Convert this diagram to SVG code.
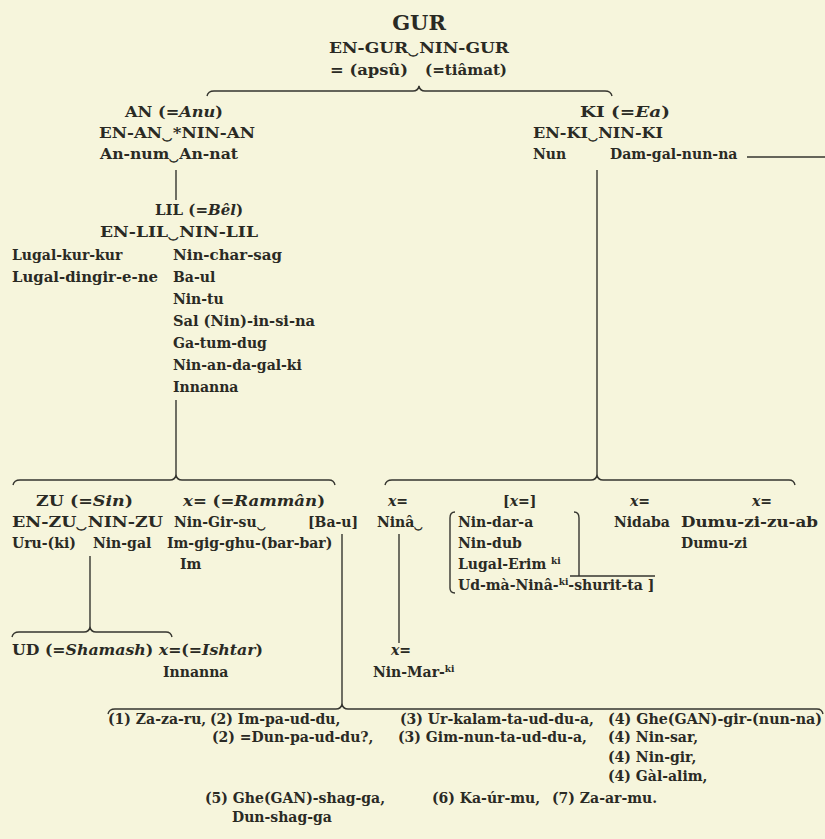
<svg xmlns="http://www.w3.org/2000/svg" width="825" height="839" viewBox="0 0 825 839">
<style>
.t{font-family:"DejaVu Serif","Liberation Serif",serif;font-weight:bold;font-size:14px;fill:#2a2a24}
.m{text-anchor:middle}
.i{font-style:italic}
.s{font-size:9px}
.ln{fill:none;stroke:#35352f;stroke-width:1.4}
</style>
<rect width="825" height="839" fill="#f6f5dc"/>
<g id="connectors" class="ln">
<path d="M207 96 Q208 91 214 91 L413 91 Q418 91 419 86 Q420 91 425 91 L605 91 Q611 91 612 96"/>
<path d="M176 170 V200"/>
<path d="M597 170 V475"/>
<path d="M747 157 H825"/>
<path d="M176 400 V475"/>
<path d="M13 485 Q14 480 20 480 L170 480 Q175 480 176 475 Q177 480 182 480 L329 480 Q334 480 335 485"/>
<path d="M385 485 Q386 480 392 480 L591 480 Q596 480 597 475 Q598 480 603 480 L789 480 Q794 480 795 485"/>
<path d="M90 556 V627"/>
<path d="M12 637 Q13 632 19 632 L84 632 Q89 632 90 627 Q91 632 96 632 L166 632 Q171 632 172 637"/>
<path d="M342 534 V704"/>
<path d="M399 534 V643"/>
<path d="M108 714 Q109 709 115 709 L336 709 Q341 709 342 704 Q343 709 348 709 L817 709 Q822 709 823 714"/>
<path d="M455 512 Q450 512 450 518 L450 588 Q450 593 455 593"/>
<path d="M574 512 Q579 512 579 518 L579 576"/>
<path d="M570 576 H655"/>
</g>
<g id="gur">
<text class="t m" x="419" y="30" style="font-size:21px">GUR</text>
<text class="t" x="329" y="53" textLength="180" lengthAdjust="spacingAndGlyphs">EN-GUR‿NIN-GUR</text>
<text class="t" x="330" y="75" textLength="78" lengthAdjust="spacingAndGlyphs">= (apsû)</text>
<text class="t" x="425" y="75" textLength="82" lengthAdjust="spacingAndGlyphs">(=tiâmat)</text>
</g>
<g id="an">
<text class="t" x="125" y="117" textLength="98" lengthAdjust="spacingAndGlyphs">AN (=<tspan class="i">Anu</tspan>)</text>
<text class="t" x="99" y="138" textLength="156" lengthAdjust="spacingAndGlyphs">EN-AN‿*NIN-AN</text>
<text class="t" x="100" y="159" textLength="138" lengthAdjust="spacingAndGlyphs">An-num‿An-nat</text>
</g>
<g id="ki">
<text class="t" x="580" y="117" textLength="90" lengthAdjust="spacingAndGlyphs">KI (=<tspan class="i">Ea</tspan>)</text>
<text class="t" x="533" y="138" textLength="130" lengthAdjust="spacingAndGlyphs">EN-KI‿NIN-KI</text>
<text class="t" x="533" y="159">Nun</text>
<text class="t" x="610" y="159">Dam-gal-nun-na</text>
</g>
<g id="lil">
<text class="t" x="155" y="215" textLength="88" lengthAdjust="spacingAndGlyphs">LIL (=<tspan class="i">Bêl</tspan>)</text>
<text class="t" x="100" y="237" textLength="158" lengthAdjust="spacingAndGlyphs">EN-LIL‿NIN-LIL</text>
<text class="t" x="12" y="260">Lugal-kur-kur</text>
<text class="t" x="12" y="282" textLength="146" lengthAdjust="spacingAndGlyphs">Lugal-dingir-e-ne</text>
<text class="t" x="173" y="260" textLength="109" lengthAdjust="spacingAndGlyphs">Nin-char-sag</text>
<text class="t" x="173" y="282">Ba-ul</text>
<text class="t" x="173" y="304">Nin-tu</text>
<text class="t" x="173" y="326" textLength="142" lengthAdjust="spacingAndGlyphs">Sal (Nin)-in-si-na</text>
<text class="t" x="173" y="348">Ga-tum-dug</text>
<text class="t" x="173" y="370">Nin-an-da-gal-ki</text>
<text class="t" x="173" y="392">Innanna</text>
</g>
<g id="zu">
<text class="t" x="36" y="506" textLength="97" lengthAdjust="spacingAndGlyphs">ZU (=<tspan class="i">Sin</tspan>)</text>
<text class="t" x="12" y="527" textLength="151" lengthAdjust="spacingAndGlyphs">EN-ZU‿NIN-ZU</text>
<text class="t" x="12" y="548">Uru-(ki)</text>
<text class="t" x="93" y="548">Nin-gal</text>
</g>
<g id="ramman">
<text class="t" x="183" y="506" textLength="142" lengthAdjust="spacingAndGlyphs"><tspan class="i">x</tspan>= (=<tspan class="i">Rammân</tspan>)</text>
<text class="t" x="174" y="527">Nin-Gir-su‿</text>
<text class="t" x="308" y="527">[Ba-u]</text>
<text class="t" x="167" y="548">Im-gig-ghu-(bar-bar)</text>
<text class="t" x="180" y="569">Im</text>
</g>
<g id="ud">
<text class="t" x="12" y="655" textLength="251" lengthAdjust="spacingAndGlyphs">UD (=<tspan class="i">Shamash</tspan>) <tspan class="i">x</tspan>=(=<tspan class="i">Ishtar</tspan>)</text>
<text class="t" x="163" y="677">Innanna</text>
</g>
<g id="nina">
<text class="t" x="388" y="506"><tspan class="i">x</tspan>=</text>
<text class="t" x="377" y="527">Ninâ‿</text>
</g>
<g id="nindara">
<text class="t" x="503" y="506">[<tspan class="i">x</tspan>=]</text>
<text class="t" x="458" y="527">Nin-dar-a</text>
<text class="t" x="458" y="548">Nin-dub</text>
<text class="t" x="458" y="569">Lugal-Erim <tspan class="s" dy="-5">ki</tspan></text>
<text class="t" x="458" y="590">Ud-mà-Ninâ-<tspan class="s" dy="-5">ki</tspan><tspan dy="5">-shurit-ta ]</tspan></text>
</g>
<g id="nidaba">
<text class="t" x="630" y="506"><tspan class="i">x</tspan>=</text>
<text class="t" x="614" y="527">Nidaba</text>
</g>
<g id="dumuzi">
<text class="t" x="752" y="506"><tspan class="i">x</tspan>=</text>
<text class="t" x="681" y="527" textLength="137" lengthAdjust="spacingAndGlyphs">Dumu-zi-zu-ab</text>
<text class="t" x="681" y="548">Dumu-zi</text>
</g>
<g id="ninmarki">
<text class="t" x="391" y="655"><tspan class="i">x</tspan>=</text>
<text class="t" x="373" y="677">Nin-Mar-<tspan class="s" dy="-5">ki</tspan></text>
</g>
<g id="list">
<text class="t" x="108" y="724">(1) Za-za-ru,</text>
<text class="t" x="210" y="724">(2) Im-pa-ud-du,</text>
<text class="t" x="400" y="724">(3) Ur-kalam-ta-ud-du-a,</text>
<text class="t" x="608" y="724" textLength="214" lengthAdjust="spacingAndGlyphs">(4) Ghe(GAN)-gir-(nun-na)</text>
<text class="t" x="212" y="742">(2) =Dun-pa-ud-du?,</text>
<text class="t" x="398" y="742">(3) Gim-nun-ta-ud-du-a,</text>
<text class="t" x="608" y="742">(4) Nin-sar,</text>
<text class="t" x="608" y="762">(4) Nin-gir,</text>
<text class="t" x="608" y="781">(4) Gàl-alim,</text>
<text class="t" x="205" y="803">(5) Ghe(GAN)-shag-ga,</text>
<text class="t" x="432" y="803">(6) Ka-úr-mu,</text>
<text class="t" x="552" y="803">(7) Za-ar-mu.</text>
<text class="t" x="232" y="822">Dun-shag-ga</text>
</g>
</svg>
